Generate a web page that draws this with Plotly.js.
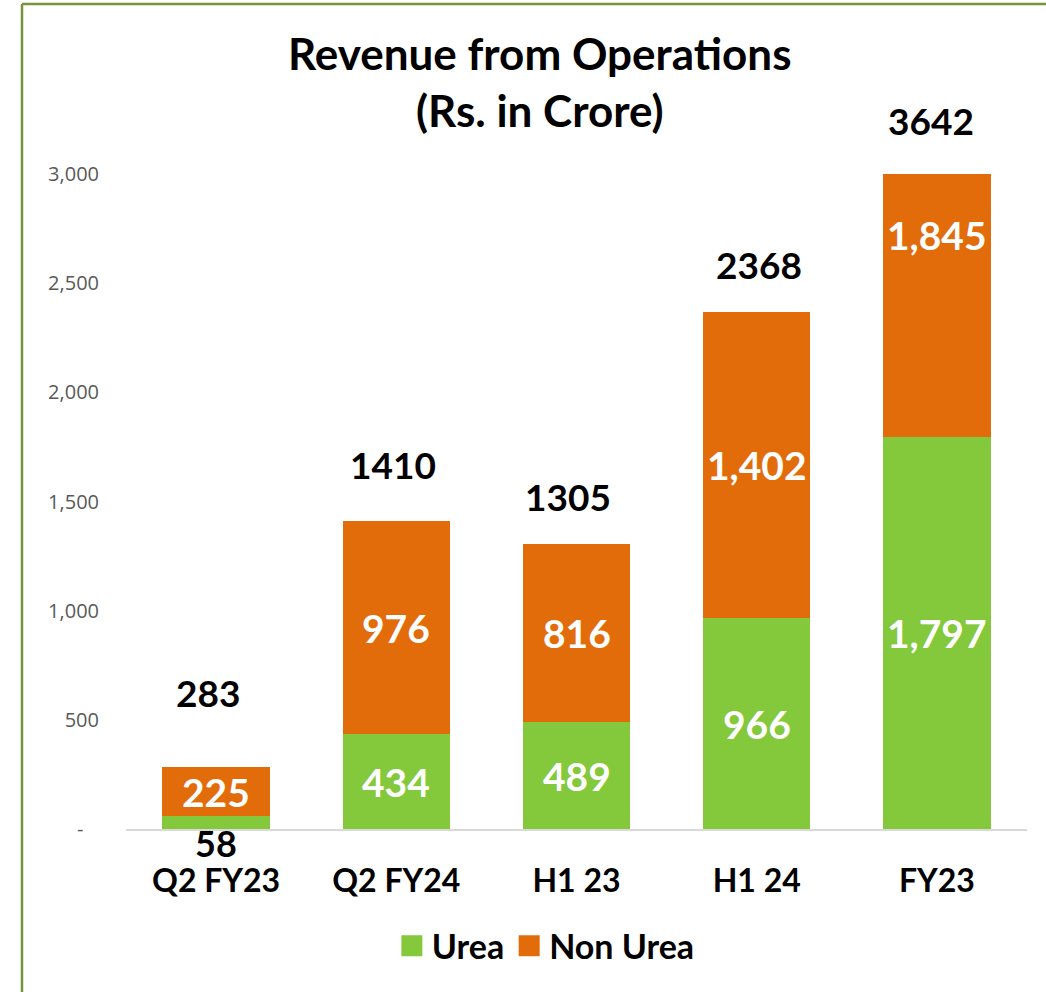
<!DOCTYPE html>
<html>
<head>
<meta charset="utf-8">
<script src="https://cdn.plot.ly/plotly-3.0.1.min.js"></script>
<style>
  html, body { margin: 0; padding: 0; background: #fff; }
  #chart { width: 1046px; height: 992px; }
  .legend .legendpoints path { transform: translate(20px, 0px) scale(1.75); }
</style>
</head>
<body>
<div id="chart"></div>
<script>
// ---- data ----
const categories = ["Q2 FY23", "Q2 FY24", "H1 23", "H1 24", "FY23"];
const urea = [58, 434, 489, 966, 1797];
const nonUrea = [225, 976, 816, 1402, 1845];
const yTickVals = [0, 500, 1000, 1500, 2000, 2500, 3000];
const yTickText = ["-\u00A0\u00A0\u00A0", "500", "1,000", "1,500", "2,000", "2,500", "3,000"];

// ---- style ----
const GREEN = "#83C93B";
const ORANGE = "#E36C0A";
const FONT = "Lato, 'Open Sans', sans-serif";
const YMAX = 3000;
const totalShift = [75, 57, 48, 47, 54];
const totalXShift = [-8, -3, -9, 2, -6];

const fmt = v => v.toLocaleString("en-US");

const traces = [
  { type: "bar", name: "Urea", x: categories, y: urea,
    marker: { color: GREEN }, hoverinfo: "x+y" },
  { type: "bar", name: "Non Urea", x: categories, y: nonUrea,
    marker: { color: ORANGE }, hoverinfo: "x+y" }
];

const annotations = [];
categories.forEach((c, i) => {
  const u = urea[i], n = nonUrea[i], t = u + n;
  // urea label
  if (u < 150) {
    annotations.push({ x: c, y: 0, xref: "x", yref: "y", text: String(u),
      showarrow: false, yanchor: "top", yshift: 10,
      font: { family: FONT, size: 36, color: "#000", weight: 700 } });
  } else {
    annotations.push({ x: c, y: u / 2, xref: "x", yref: "y", text: fmt(u),
      showarrow: false, yanchor: "middle",
      font: { family: FONT, size: 39, color: "#fff", weight: 700 } });
  }
  // non-urea label
  annotations.push({ x: c, y: u + n / 2, xref: "x", yref: "y", text: fmt(n),
    showarrow: false, yanchor: "middle",
    font: { family: FONT, size: 39, color: "#fff", weight: 700 } });
  // total label
  annotations.push({ x: c, y: Math.min(t, YMAX), xref: "x", yref: "y", text: String(t),
    showarrow: false, yanchor: "middle", yshift: totalShift[i], xshift: totalXShift[i],
    font: { family: FONT, size: 37, color: "#000", weight: 700 } });
});

const layout = {
  width: 1046, height: 992,
  margin: { l: 126, r: 19, t: 174, b: 163 },
  paper_bgcolor: "#fff", plot_bgcolor: "#fff",
  barmode: "stack",
  bargap: 0.405,
  title: {
    text: "Revenue from Operations<br>(Rs. in Crore)",
    x: 0.516, xref: "container", xanchor: "center",
    y: 1 - 70 / 992, yref: "container", yanchor: "middle",
    font: { family: FONT, size: 44, color: "#000", weight: 700 }
  },
  xaxis: {
    type: "category",
    showgrid: false, zeroline: false,
    showline: true, linecolor: "#D9D9D9", linewidth: 1.5,
    ticks: "", ticklabelstandoff: 23,
    tickfont: { family: FONT, size: 32, color: "#000", weight: 700 }
  },
  yaxis: {
    range: [0, YMAX], showgrid: false, zeroline: false, showline: false,
    tickvals: yTickVals, ticktext: yTickText,
    ticks: "", ticklabelstandoff: 26,
    tickfont: { family: "'Open Sans', sans-serif", size: 20, color: "#595959" }
  },
  legend: {
    orientation: "h", x: 0.466, xanchor: "center", xref: "paper",
    y: -0.179, yanchor: "middle",
    font: { family: FONT, size: 34, color: "#000", weight: 700 },
    itemwidth: 30, traceorder: "normal"
  },
  annotations: annotations,
  shapes: [
    { type: "line", xref: "paper", yref: "paper",
      x0: (22 - 126) / 901, x1: (22 - 126) / 901, y0: (829 - 4) / 655, y1: -0.4,
      line: { color: "#77933C", width: 2.5 } },
    { type: "line", xref: "paper", yref: "paper",
      x0: (22 - 126) / 901, x1: 1.1, y0: (829 - 4) / 655, y1: (829 - 4) / 655,
      line: { color: "#77933C", width: 2.5 } }
  ],
  showlegend: true
};

Plotly.newPlot("chart", traces, layout, { displayModeBar: false, staticPlot: true });
</script>
</body>
</html>
